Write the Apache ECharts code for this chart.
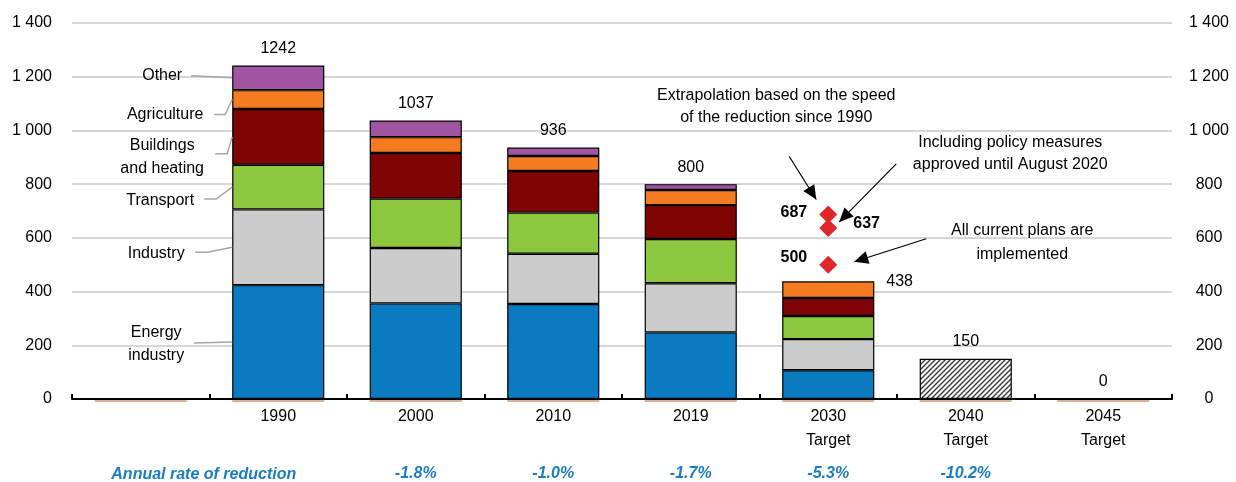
<!DOCTYPE html>
<html>
<head>
<meta charset="utf-8">
<script src="https://cdn.jsdelivr.net/npm/echarts@6/dist/echarts.min.js"></script>
<style>
html,body{margin:0;padding:0;background:#fff;}
#chart{width:1236px;height:482px;}
</style>
</head>
<body>
<div id="chart"></div>
<script>
// ---- data ----
const categories = ['', '1990', '2000', '2010', '2019', '2030\nTarget', '2040\nTarget', '2045\nTarget'];
const energy      = ['-', 424, 356, 354, 248, 107, '-', '-'];
const industry    = ['-', 282, 206, 187, 183, 116, '-', '-'];
const transport   = ['-', 166, 184, 153, 165, 86, '-', '-'];
const buildings   = ['-', 208, 170, 155, 126, 67, '-', '-'];
const agriculture = ['-', 70, 59, 56, 56, 62, '-', '-'];
const other       = ['-', 92, 62, 31, 22, '-', '-', '-'];
const targetOnly  = ['-', '-', '-', '-', '-', '-', 150, '-'];
const totals      = ['-', 1242, 1037, 936, 800, 438, 150, 0];
const scenarioValues = [687, 637, 500];
const rates = ['', '', '-1.8%', '-1.0%', '-1.7%', '-5.3%', '-10.2%', ''];
const rateTitle = 'Annual rate of reduction';
const sectorNames = ['Energy\nindustry', 'Industry', 'Transport', 'Buildings\nand heating', 'Agriculture', 'Other'];
const annotationTexts = [
  'Extrapolation based on the speed\nof the reduction since 1990',
  'Including policy measures\napproved until August 2020',
  'All current plans are\nimplemented'
];
const yMin = 0, yMax = 1400, yInterval = 200;

// ---- style ----
const FONT = 'Liberation Sans, Arial, sans-serif';
const colors = ['#0a7bc1', '#cccccc', '#8dc63f', '#7f0505', '#f47b20', '#a055a0'];
const fmt = v => String(v).replace(/\B(?=(\d{3})+(?!\d))/g, ' ');

// hatch pattern
const tile = document.createElement('canvas');
tile.width = 5; tile.height = 5;
const tctx = tile.getContext('2d');
tctx.fillStyle = '#ffffff'; tctx.fillRect(0, 0, 5, 5);
tctx.strokeStyle = '#3a3a3a'; tctx.lineWidth = 1.4;
tctx.beginPath();
tctx.moveTo(-1, 6); tctx.lineTo(6, -1);
tctx.moveTo(-1, 1); tctx.lineTo(1, -1);
tctx.moveTo(4, 6); tctx.lineTo(6, 4);
tctx.stroke();

const chart = echarts.init(document.getElementById('chart'), null, {renderer: 'canvas'});
const seriesArrays = [energy, industry, transport, buildings, agriculture, other];
const barStyle = {borderColor: '#000', borderWidth: 1.2};
const series = seriesArrays.map((arr, i) => ({
  name: sectorNames[i], type: 'bar', stack: 'total', data: arr,
  barCategoryGap: '33%',
  itemStyle: Object.assign({color: colors[i]}, barStyle)
}));
series.push({
  name: 'Target', type: 'bar', stack: 'total', data: targetOnly,
  itemStyle: Object.assign({color: {image: tile, repeat: 'repeat'}}, barStyle)
});
series.push({
  name: 'zero', type: 'custom', data: categories.map((c, i) => [i, 0]), z: 1,
  renderItem: (params, api) => {
    const p = api.coord([api.value(0), 0]);
    const w = api.size([1, 0])[0] * 0.67;
    return {type: 'line', shape: {x1: p[0] - w / 2, y1: p[1] + 2, x2: p[0] + w / 2, y2: p[1] + 2},
      style: {stroke: '#b5642c', lineWidth: 1}};
  }
});
series.push({
  name: 'totals', type: 'scatter', symbolSize: 0, z: 5,
  itemStyle: {opacity: 1},
  data: totals.map((v, i) => i === 5
    ? {value: v, label: {position: 'right', distance: 58}}
    : v),
  label: {show: true, position: 'top', distance: 9, fontFamily: FONT, fontSize: 16, color: '#000', opacity: 1}
});
series.push({
  name: 'scenarios', type: 'scatter', symbol: 'diamond', symbolSize: [18, 18], z: 6,
  itemStyle: {color: '#e0252b', opacity: 1},
  data: [
    {value: [5, scenarioValues[0]], label: {position: 'left', distance: 12, offset: [0, -2]}},
    {value: [5, scenarioValues[1]], label: {position: 'right', distance: 16, offset: [0, -4]}},
    {value: [5, scenarioValues[2]], label: {position: 'left', distance: 12, offset: [0, -7]}}
  ],
  label: {show: true, fontFamily: FONT, fontSize: 16, fontWeight: 'bold', color: '#000', opacity: 1,
    formatter: p => p.value[1]}
});

const option = {
  animation: false,
  backgroundColor: '#fff',
  grid: {left: 72, right: 64, top: 23, bottom: 83, containLabel: false},
  xAxis: [{
    type: 'category', data: categories, position: 'bottom',
    axisLine: {lineStyle: {color: '#000', width: 2}},
    axisTick: {show: true, inside: true, length: 5, lineStyle: {color: '#000', width: 2}},
    axisLabel: {interval: 0, margin: 6, fontFamily: FONT, fontSize: 16, color: '#000', lineHeight: 24}
  }, {
    type: 'category', data: rates, position: 'bottom', offset: 67,
    axisLine: {show: false}, axisTick: {show: false},
    axisLabel: {interval: 0, margin: 0, fontFamily: FONT, fontSize: 16, fontWeight: 'bold',
      fontStyle: 'italic', color: '#1a7dc4'}
  }],
  yAxis: [{
    type: 'value', min: yMin, max: yMax, interval: yInterval, position: 'left',
    axisLine: {show: false}, axisTick: {show: false},
    splitLine: {lineStyle: {color: '#d6d6d6', width: 2}},
    axisLabel: {margin: 20, fontFamily: FONT, fontSize: 16, color: '#000', formatter: fmt}
  }, {
    type: 'value', min: yMin, max: yMax, interval: yInterval, position: 'right',
    axisLine: {show: false}, axisTick: {show: false}, splitLine: {show: false},
    axisLabel: {margin: 37, align: 'center', fontFamily: FONT, fontSize: 16, color: '#000', formatter: fmt}
  }],
  series: series
};
chart.setOption(option);

// ---- annotations anchored to the chart's scales ----
const px = (c, v) => chart.convertToPixel({gridIndex: 0}, [c, v]);
const band = px(2, 0)[0] - px(1, 0)[0];
const barLeft = px(1, 0)[0] - band * 0.67 / 2;
const graphics = [];
const txt = (text, x, y, extra) => graphics.push({
  type: 'text', z: 10,
  style: Object.assign({text, x, y, textAlign: 'center', textVerticalAlign: 'middle',
    fontFamily: FONT, fontSize: 16, fill: '#000', lineHeight: 23}, extra || {})
});
const poly = (pts, color) => graphics.push({
  type: 'polyline', z: 9, shape: {points: pts},
  style: {stroke: color, lineWidth: 1.5, fill: null}
});

// leader labels for 1990
const layout = [
  {tx: -76, ty: 2,  line: [[-38, 1]]},
  {tx: -76, ty: 6,  line: [[-37, 5], [-25, 5]]},
  {tx: -72, ty: 13, line: [[-28, 12], [-16, 12]]},
  {tx: -70, ty: 20, line: [[-17, 17], [-5, 17]]},
  {tx: -67, ty: 15, line: [[-18, 15], [-7, 15]]},
  {tx: -70, ty: -2, line: [[-41, -2]]}
];
let cum = 0;
seriesArrays.forEach((arr, i) => {
  const v = arr[1];
  const mid = cum + v / 2;
  cum += v;
  const y = px(1, mid)[1];
  const L = layout[i];
  txt(sectorNames[i], barLeft + L.tx, y + L.ty);
  const pts = L.line.map(p => [barLeft + p[0], y + p[1]]);
  pts.push([barLeft, y]);
  poly(pts, '#a6a6a6');
});

// arrows
function arrow(x1, y1, x2, y2) {
  graphics.push({type: 'line', z: 9, shape: {x1, y1, x2, y2}, style: {stroke: '#000', lineWidth: 1.2}});
  const dx = x2 - x1, dy = y2 - y1, len = Math.hypot(dx, dy);
  const ux = dx / len, uy = dy / len;
  const hl = 14, hw = 6.5;
  const bx = x2 - ux * hl, by = y2 - uy * hl;
  graphics.push({type: 'polygon', z: 9, shape: {points: [[x2, y2], [bx - uy * hw, by + ux * hw], [bx + uy * hw, by - ux * hw]]},
    style: {fill: '#000'}});
}
const d = scenarioValues.map(v => px(5, v));
txt(annotationTexts[0], d[0][0] - 52, d[0][1] - 108, {lineHeight: 22});
arrow(d[0][0] - 39, d[0][1] - 58, d[0][0] - 12, d[0][1] - 15);
txt(annotationTexts[1], d[1][0] + 182, d[1][1] - 74, {lineHeight: 22});
arrow(d[1][0] + 68, d[1][1] - 64, d[1][0] + 11, d[1][1] - 6);
txt(annotationTexts[2], d[2][0] + 194, d[2][1] - 22, {lineHeight: 24});
arrow(d[2][0] + 98, d[2][1] - 26, d[2][0] + 26, d[2][1] - 3);

// rate row title
const rateY = px(0, 0)[1] + 76;
txt(rateTitle, px(0, 0)[0] + 63, rateY, {fontWeight: 'bold', fontStyle: 'italic', fill: '#1a7dc4'});

chart.setOption({graphic: graphics});
</script>
</body>
</html>
